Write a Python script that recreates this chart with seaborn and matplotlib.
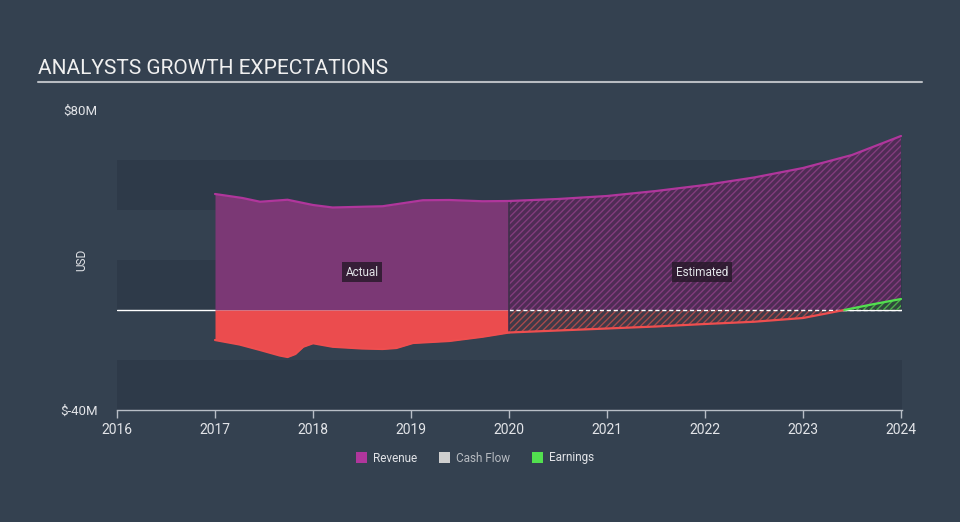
import numpy as np
import pandas as pd
import matplotlib.pyplot as plt
from matplotlib.patches import Patch
import seaborn as sns

# revenue, actual (decimal year, $M)
rev_act_year = [2017.0, 2017.28, 2017.46, 2017.74, 2018.0, 2018.2, 2018.71, 2019.12, 2019.39, 2019.73, 2020.0]
rev_act_val = [46.4, 44.8, 43.3, 44.1, 42.0, 41.0, 41.5, 43.9, 44.0, 43.5, 43.6]

# revenue, estimated
rev_est_year = [2020.0, 2020.5, 2021.0, 2021.5, 2022.0, 2022.5, 2023.0, 2023.5, 2024.0]
rev_est_val = [43.6, 44.4, 45.6, 47.6, 50.0, 53.0, 56.8, 62.0, 69.6]

# earnings, actual
earn_act_year = [2017.0, 2017.25, 2017.46, 2017.66, 2017.74, 2017.82, 2017.9, 2018.0, 2018.2, 2018.5,
                 2018.71, 2018.85, 2019.02, 2019.39, 2019.73, 2020.0]
earn_act_val = [-12.0, -13.8, -16.0, -18.2, -18.8, -17.6, -14.7, -13.3, -14.7, -15.4,
                -15.6, -15.2, -13.2, -12.4, -10.7, -9.0]

# earnings, estimated
earn_est_year = [2020.0, 2020.5, 2021.0, 2021.5, 2022.0, 2022.5, 2023.0, 2023.42, 2023.7, 2024.0]
earn_est_val = [-9.0, -8.2, -7.4, -6.6, -5.6, -4.7, -3.2, 0.0, 2.2, 4.4]

x_ticks = [2016, 2017, 2018, 2019, 2020, 2021, 2022, 2023, 2024]
legend_names = ["Revenue", "Cash Flow", "Earnings"]

bg = "#344150"
band = "#2e3a49"
txt = "#e2e4e8"
rev_line = "#b0369c"
rev_fill = "#7b3875"
earn_red = "#ee4e4f"
earn_green = "#52e04f"

sns.set_style("dark")
plt.rcParams["font.family"] = ["Roboto", "DejaVu Sans"]
plt.rcParams["hatch.linewidth"] = 1.0

fig = plt.figure(figsize=(9.6, 5.22), dpi=100, facecolor=bg)
ax = fig.add_axes([117 / 960, 112 / 522, 785 / 960, 300 / 522])
ax.set_facecolor(bg)

# alternating bands
for lo in [40, 0, -40]:
    ax.axhspan(lo, lo + 20, color=band, lw=0, zorder=0)
ax.axhspan(-20, 0, color=bg, lw=0, zorder=0)
ax.axhspan(20, 40, color=bg, lw=0, zorder=0)

ax.axhline(0, color="white", lw=1, zorder=1)

ra = pd.DataFrame({"year": rev_act_year, "value": rev_act_val})
re = pd.DataFrame({"year": rev_est_year, "value": rev_est_val})
ea = pd.DataFrame({"year": earn_act_year, "value": earn_act_val})
ee = pd.DataFrame({"year": earn_est_year, "value": earn_est_val})

# actual fills
ax.fill_between(ra["year"], 0, ra["value"], color=rev_fill, lw=0, zorder=2)
ax.fill_between(ea["year"], 0, ea["value"], color="#eb4c4e", lw=0, zorder=2)

# estimated fills (hatched)
ax.fill_between(re["year"], 0, re["value"], facecolor="#4f2c55", edgecolor="#823c7d",
                hatch="/////", lw=0, zorder=2)
neg = ee["value"] <= 0
pos = ee["value"] >= 0
ax.fill_between(ee["year"][neg], 0, ee["value"][neg], facecolor="#3f3a48", edgecolor="#a84a4c",
                hatch="/////", lw=0, zorder=2)
ax.fill_between(ee["year"][pos], 0, ee["value"][pos], facecolor="#2f4a3c", edgecolor="#4fb04c",
                hatch="/////", lw=0, zorder=2)

ax.plot([2020, 2024], [0, 0], color="white", lw=1, ls=(0, (3, 2)), zorder=3)
ax.axvline(2020, ymin=(-9 + 40) / 120, ymax=(43.6 + 40) / 120, color="#40304a", lw=1.2, zorder=3)

# lines
sns.lineplot(data=ra, x="year", y="value", ax=ax, color=rev_line, lw=1.6, zorder=4)
sns.lineplot(data=re, x="year", y="value", ax=ax, color=rev_line, lw=1.6, zorder=4)
sns.lineplot(data=ea, x="year", y="value", ax=ax, color=earn_red, lw=1.6, zorder=4)
sns.lineplot(data=ee[neg], x="year", y="value", ax=ax, color=earn_red, lw=1.6, zorder=4)
sns.lineplot(data=ee[pos], x="year", y="value", ax=ax, color=earn_green, lw=1.6, zorder=4)

box = dict(boxstyle="square,pad=0.3", facecolor="#2a1a2c", edgecolor="none", alpha=0.85)
ax.text(2018.5, 15.2, "Actual", color=txt, fontsize=8.5, ha="center", va="center", bbox=box, zorder=5)
ax.text(2021.97, 15.2, "Estimated", color=txt, fontsize=8.5, ha="center", va="center", bbox=box, zorder=5)

ax.set_xlim(2016, 2024.01)
ax.set_ylim(-40, 80)
ax.set_xticks(x_ticks)
ax.set_xticklabels([str(t) for t in x_ticks])
ax.set_yticks([-40, 80])
ax.set_yticklabels(["$-40M", "$80M"])
ax.tick_params(axis="x", colors="#b8bec6", labelcolor=txt, labelsize=10, length=6, width=1,
               direction="out", bottom=True, pad=3)
ax.tick_params(axis="y", colors=txt, labelsize=9.5, length=0, pad=14)
ax.set_xlabel("")
ax.set_ylabel("USD", color=txt, fontsize=8.5, labelpad=14)
ax.yaxis.set_label_coords(-0.037, 0.5)
for s in ["top", "right", "left"]:
    ax.spines[s].set_visible(False)
ax.spines["bottom"].set_color("#b8bec6")
ax.spines["bottom"].set_linewidth(1)
ax.grid(False)

fig.text(38 / 960, 1 - 68 / 522, "ANALYSTS GROWTH EXPECTATIONS", color="#f0f0f0",
         fontsize=15, va="center", ha="left")
fig.add_artist(plt.Line2D([38 / 960, 922 / 960], [1 - 82 / 522, 1 - 82 / 522],
                          color="#b8bcc2", lw=1.5))

handles = [Patch(facecolor=c, edgecolor="none") for c in [rev_line, "#cfcfcf", earn_green]]
leg = fig.legend(handles, legend_names, loc="center", bbox_to_anchor=(475 / 960, 1 - 458 / 522),
                 ncol=3, frameon=False, fontsize=8.5, handlelength=1.0, handleheight=1.0,
                 handletextpad=0.5, columnspacing=1.8)
for t, c in zip(leg.get_texts(), [txt, "#b8bcc2", txt]):
    t.set_color(c)

fig.savefig("out.png", dpi=100, facecolor=bg)
